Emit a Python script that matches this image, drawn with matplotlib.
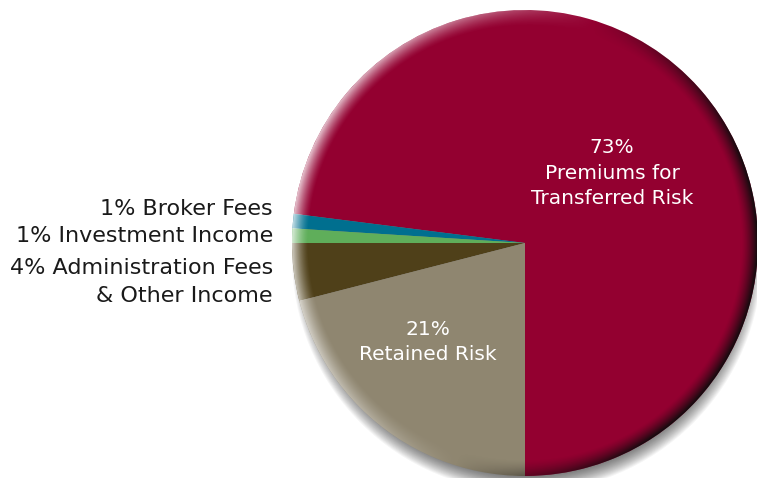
import numpy as np
import matplotlib.pyplot as plt
from matplotlib.patches import Circle

plt.rcParams['font.family'] = ['DejaVu Sans']

# slice data, counterclockwise from the bottom
labels = ['Premiums for\nTransferred Risk', 'Broker Fees', 'Investment Income',
          'Administration Fees\n& Other Income', 'Retained Risk']
shares = [73, 1, 1, 4, 21]
colors = ['#930030', '#006f8f', '#5fae5a', '#4f4019', '#8f8670']

W, H = 757, 478
cx, cy, R = 525, H - 243, 233

fig = plt.figure(figsize=(W / 100, H / 100), dpi=100)
ax = fig.add_axes([0, 0, 1, 1])

# soft drop shadow, mostly below the pie
for i in range(16):
    ax.add_patch(Circle((cx + 2, cy - 14), R + 2 - i, color='black',
                        alpha=0.04, lw=0, zorder=0))

wedges, _ = ax.pie(shares, colors=colors, startangle=-90, counterclock=True,
                   center=(cx, cy), radius=R, frame=True,
                   wedgeprops=dict(lw=0))
for w in wedges:
    w.set_zorder(1)

# bevel overlay: light on the left, dark on the right
xs = np.arange(cx - R, cx + R + 1)
ys = np.arange(cy - R, cy + R + 1)
X, Y = np.meshgrid(xs, ys)
dx, dy = X - cx, Y - cy
r = np.hypot(dx, dy) + 1e-9
bw = 16
t = np.clip((r - (R - bw)) / bw, 0, 1) ** 1.4
lx, ly = -0.95, 0.3
d = (dx * lx + dy * ly) / r / np.hypot(lx, ly)
rgba = np.zeros(X.shape + (4,))
light = d > 0
rgba[light, :3] = 1.0
rgba[light, 3] = t[light] * d[light] * 0.75
rgba[~light, :3] = 0.05
rgba[~light, 3] = t[~light] * np.clip(-d[~light] * 1.3, 0, 1) * 0.95
im = ax.imshow(rgba, extent=(xs[0], xs[-1], ys[0], ys[-1]), origin='lower',
               zorder=2, interpolation='bilinear')
im.set_clip_path(Circle((cx, cy), R, transform=ax.transData))

# slice labels
ax.text(612, H - 173, '73%\n' + labels[0], color='white', fontsize=14.5,
        ha='center', va='center', linespacing=1.45, zorder=3)
ax.text(428, H - 342, '21%\n' + labels[4], color='white', fontsize=14.5,
        ha='center', va='center', linespacing=1.45, zorder=3)

side = [('1% ' + labels[1], 209), ('1% ' + labels[2], 236),
        ('4% ' + labels[3], 282)]
for txt, y in side:
    ax.text(273, H - y, txt, color='#1a1a1a', fontsize=16, ha='right',
            va='center', linespacing=1.45, zorder=3)

ax.set_xlim(0, W)
ax.set_ylim(0, H)
ax.set_aspect('equal')
ax.axis('off')

fig.savefig('out.png', dpi=100)
